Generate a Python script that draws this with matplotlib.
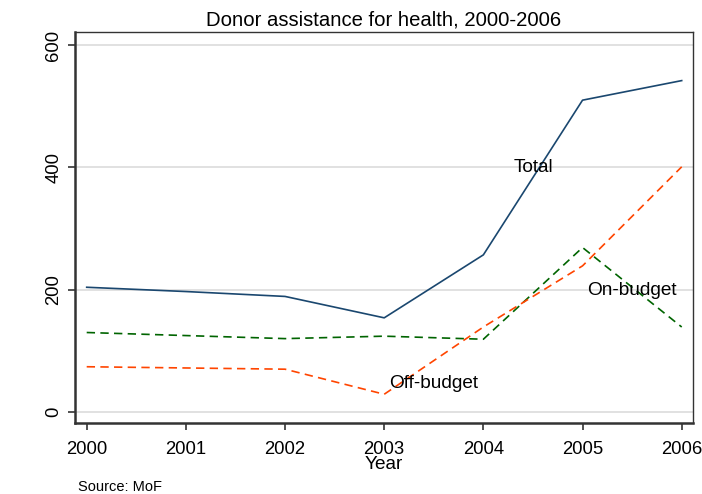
import matplotlib
matplotlib.use("Agg")
import matplotlib.pyplot as plt

years_total = [2000, 2001, 2002, 2003, 2004, 2005, 2006]
total = [204, 197, 189, 154, 257, 510, 542]
on_budget = [130, 125, 120, 124, 119, 269, 139]
off_budget = [74, 72, 70, 29, 139, 239, 401]

x_ticks = [2000, 2001, 2002, 2003, 2004, 2005, 2006]
y_ticks = [0, 200, 400, 600]

title = "Donor assistance for health, 2000-2006"
labels = [("Total", 2004.5, 400), ("On-budget", 2005.5, 198), ("Off-budget", 2003.5, 47)]

plt.rcParams['font.family'] = ['Liberation Sans', 'DejaVu Sans']

fig = plt.figure(figsize=(7.02, 4.94), dpi=100)
W, H = 702, 494
left, right, top, bottom = 74.7, 692.7, 32.3, 423.3
ax = fig.add_axes([left / W, 1 - bottom / H, (right - left) / W, (bottom - top) / H])

ax.plot(years_total, total, color='#1a476f', lw=1.2)
ax.plot(years_total, on_budget, color='#006400', lw=1.2, dashes=(5, 3.2))
ax.plot(years_total, off_budget, color='#ff4500', lw=1.2, dashes=(5, 3.2))

for txt, xx, yy in labels:
    ax.text(xx, yy, txt, ha='center', va='center', fontsize=13.7, color='black')

ax.set_xlim(2000 - 12 / 99.2, 2006 + 11 / 99.2)
ax.set_ylim(-18.5, 621)
ax.set_xticks(x_ticks)
ax.set_yticks(y_ticks)
ax.set_xticklabels([str(t) for t in x_ticks], fontsize=13.3)
ax.set_yticklabels([str(t) for t in y_ticks], fontsize=13.3, rotation=90, va='center')
ax.grid(axis='y', color='#dcdcdc', lw=1.2)
ax.set_axisbelow(True)
ax.tick_params(axis='both', direction='out', length=5, width=1.2, color='#333333')
ax.tick_params(axis='x', pad=7.5)
ax.tick_params(axis='y', pad=4)

for s in ['left', 'bottom']:
    ax.spines[s].set_linewidth(1.8)
    ax.spines[s].set_color('#333333')
for s in ['top', 'right']:
    ax.spines[s].set_linewidth(1.0)
    ax.spines[s].set_color('#333333')

ax.set_title(title, fontsize=14.6, pad=5)
fig.text(383.7 / W, 1 - 469 / H, "Year", ha='center', va='baseline', fontsize=13.7)
fig.text(78 / W, 1 - 487 / H, "Source: MoF", ha='left', va='center', fontsize=10.5)

fig.savefig("out.png", dpi=100, facecolor='white')
